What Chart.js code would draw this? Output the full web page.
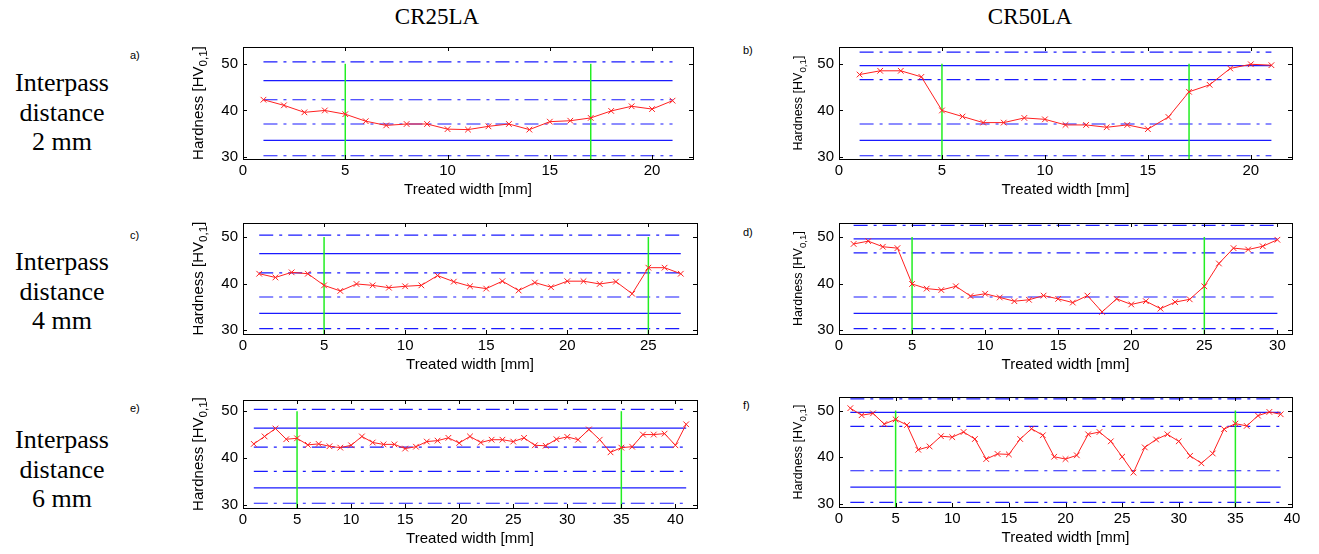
<!DOCTYPE html>
<html>
<head>
<meta charset="utf-8">
<script src="https://cdn.jsdelivr.net/npm/chart.js@4/dist/chart.umd.min.js"></script>
<style>
body{margin:0;background:#fff;width:1319px;height:554px;position:relative;overflow:hidden}
.t{position:absolute;white-space:nowrap;color:#000}
.col{font:23px/26px "Liberation Serif",serif;transform:translateX(-50%)}
.row{font:26px/29.5px "Liberation Serif",serif;text-align:center;transform:translateX(-50%)}
.lab{font:11px/13px "Liberation Sans",Arial,sans-serif}
canvas{position:absolute}
</style>
</head>
<body>
<div class="t col" style="left:437px;top:4px">CR25LA</div>
<div class="t col" style="left:1030px;top:4px">CR50LA</div>
<div class="t row" style="left:62px;top:68px">Interpass<br>distance<br>2 mm</div>
<div class="t row" style="left:62px;top:247px">Interpass<br>distance<br>4 mm</div>
<div class="t row" style="left:62px;top:425px">Interpass<br>distance<br>6 mm</div>
<div class="t lab" style="left:130px;top:49px">a)</div>
<div class="t lab" style="left:743px;top:44px">b)</div>
<div class="t lab" style="left:130px;top:229px">c)</div>
<div class="t lab" style="left:743px;top:226px">d)</div>
<div class="t lab" style="left:130px;top:402px">e)</div>
<div class="t lab" style="left:743px;top:399px">f)</div>
<script>
// measured hardness, one value per mm of treated width (starting at 1 mm)
const hardnessA = [42.3,41.1,39.6,40.0,39.2,37.7,36.8,37.1,37.1,36.0,35.9,36.6,37.1,35.9,37.6,37.8,38.4,39.9,40.9,40.3,42.1];
const hardnessB = [47.7,48.5,48.5,47.2,40.0,38.7,37.4,37.4,38.4,38.1,36.9,36.9,36.4,36.9,36.0,38.6,44.0,45.5,49.0,49.9,49.7];
const hardnessC = [42.1,41.3,42.4,42.1,39.6,38.4,39.9,39.6,39.1,39.4,39.6,41.7,40.4,39.4,38.9,40.5,38.5,40.2,39.2,40.5,40.5,39.9,40.4,37.8,43.4,43.4,42.1];
const hardnessD = [48.5,49.1,47.9,47.6,39.9,38.9,38.6,39.4,37.3,37.8,37.0,36.2,36.5,37.4,36.7,35.9,37.4,33.9,36.7,35.5,36.2,34.6,36.0,36.6,39.4,44.3,47.6,47.3,48.0,49.4];
const hardnessE = [43.0,44.6,46.3,44.0,44.2,42.8,43.0,42.5,42.2,42.7,44.6,43.3,42.9,42.9,42.0,42.4,43.5,43.7,44.3,43.2,44.6,43.3,43.9,43.9,43.5,44.3,42.7,42.6,44.0,44.5,43.9,46.1,43.9,41.2,42.2,42.4,45.0,45.0,45.2,42.7,47.2];
const hardnessF = [50.5,49.0,49.4,47.1,48.1,46.9,41.6,42.3,44.5,44.3,45.4,43.9,39.6,40.7,40.6,43.9,46.1,44.7,40.1,39.6,40.4,44.9,45.4,43.4,40.1,36.7,42.1,43.8,44.9,43.4,40.3,38.7,40.8,46.0,47.2,46.7,48.9,49.7,49.2];

// reference hardness levels
const cr25Solid = [46.4, 33.6];
const cr25DashDot = [50.4, 42.3, 37.1, 30.3];
const cr50Solid = [49.6, 33.6];
const cr50DashDot = [52.5, 46.6, 37.1, 30.3];

// green markers (x position, mm)
const hazA = [5, 17];
const hazB = [5, 17];
const hazC = [5, 25];
const hazD = [5, 25];
const hazE = [5, 35];
const hazF = [5, 35];
const hazTop = 50;

// tick labels
const yTicks = [30, 40, 50];
const xTicks20 = [0, 5, 10, 15, 20];
const xTicks25 = [0, 5, 10, 15, 20, 25];
const xTicks30 = [0, 5, 10, 15, 20, 25, 30];
const xTicks40 = [0, 5, 10, 15, 20, 25, 30, 35, 40];

const xTitle = 'Treated width [mm]';
const FONT = '"Liberation Sans", Arial, sans-serif';
const dashDot = [14, 6, 3, 6];

// matlab style box with inward ticks
const boxPlugin = {
  id: 'box',
  afterDraw(chart) {
    const {ctx, chartArea: a, scales: {x, y}} = chart;
    ctx.save();
    ctx.strokeStyle = '#000';
    ctx.lineWidth = 1;
    ctx.strokeRect(Math.round(a.left) + .5, Math.round(a.top) + .5, Math.round(a.right - a.left), Math.round(a.bottom - a.top));
    ctx.beginPath();
    for (const t of x.ticks) {
      const px = Math.round(x.getPixelForValue(t.value)) + .5;
      ctx.moveTo(px, a.bottom); ctx.lineTo(px, a.bottom - 4);
      ctx.moveTo(px, a.top); ctx.lineTo(px, a.top + 4);
    }
    for (const t of y.ticks) {
      const py = Math.round(y.getPixelForValue(t.value)) + .5;
      ctx.moveTo(a.left, py); ctx.lineTo(a.left + 4, py);
      ctx.moveTo(a.right, py); ctx.lineTo(a.right - 4, py);
    }
    ctx.stroke();
    ctx.restore();
  }
};

// y title with a real subscript: Hardness [HV 0,1 ]
const yTitlePlugin = {
  id: 'ytitle',
  afterDraw(chart, args, opts) {
    const {ctx, chartArea: a} = chart;
    const s = opts.size, sub = s * 0.78;
    const parts = [['Hardness [HV', s, 0], ['0,1', sub, s * 0.32], [']', s, 0]];
    ctx.save();
    ctx.fillStyle = '#000';
    let total = 0;
    for (const p of parts) { ctx.font = p[1] + 'px ' + FONT; p.push(ctx.measureText(p[0]).width); total += p[3]; }
    ctx.translate(a.left - opts.offset, (a.top + a.bottom) / 2);
    ctx.rotate(-Math.PI / 2);
    ctx.textBaseline = 'middle';
    let x = -total / 2;
    for (const p of parts) {
      ctx.font = p[1] + 'px ' + FONT;
      ctx.fillText(p[0], x, p[2]);
      x += p[3];
    }
    ctx.restore();
  }
};

function refLine(v, n, dash) {
  return {data: [{x: 1, y: v}, {x: n, y: v}], borderColor: '#1a1aff', borderWidth: 1.2,
    borderDash: dash, pointRadius: 0, order: 3};
}

function makePanel(p) {
  const {l, r, t, b} = p.box;
  const yW = 60, xH = 45, padT = 15, padR = 15;
  const w = r - l + yW + padR, h = b - t + padT + xH;
  const cv = document.createElement('canvas');
  cv.width = w; cv.height = h;
  cv.style.left = (l - yW) + 'px';
  cv.style.top = (t - padT) + 'px';
  cv.style.width = w + 'px';
  cv.style.height = h + 'px';
  document.body.appendChild(cv);

  const n = p.values.length;
  const ds = [];
  p.solid.forEach(v => ds.push(refLine(v, n, [])));
  p.dash.forEach(v => ds.push(refLine(v, n, dashDot)));
  p.haz.forEach(xv => ds.push({data: [{x: xv, y: p.yMin}, {x: xv, y: hazTop}],
    borderColor: '#22ee22', borderWidth: 1.5, pointRadius: 0, order: 2}));
  ds.push({data: p.values.map((v, i) => ({x: i + 1, y: v})), borderColor: '#ff2020', borderWidth: 1,
    pointStyle: 'crossRot', pointRadius: 4, pointBorderColor: '#ff2020', pointBorderWidth: 1, order: 1});

  new Chart(cv, {
    type: 'line',
    data: {datasets: ds},
    options: {
      responsive: false, animation: false, devicePixelRatio: 1, events: [],
      layout: {padding: {top: padT, right: padR, left: 0, bottom: 0}},
      plugins: {legend: {display: false}, tooltip: {enabled: false},
        ytitle: {size: p.ySize, offset: p.yOff}},
      scales: {
        x: {
          type: 'linear', min: 0, max: p.xMax,
          afterBuildTicks: s => { s.ticks = p.xTicks.map(v => ({value: v})); },
          afterFit: s => { s.height = xH; },
          grid: {display: false, drawTicks: false}, border: {display: false},
          ticks: {font: {size: 15, family: FONT}, color: '#000', padding: 3, maxRotation: 0},
          title: {display: true, text: xTitle, color: '#000', font: {size: 15, family: FONT}, padding: {top: 0, bottom: 5}}
        },
        y: {
          type: 'linear', min: p.yMin, max: p.yMax,
          afterBuildTicks: s => { s.ticks = yTicks.map(v => ({value: v})); },
          afterFit: s => { s.width = yW; },
          grid: {display: false, drawTicks: false}, border: {display: false},
          ticks: {font: {size: 15, family: FONT}, color: '#000', padding: 5}
        }
      }
    },
    plugins: [boxPlugin, yTitlePlugin]
  });
}

const panels = [
  {values: hardnessA, xMax: 22, xTicks: xTicks20, solid: cr25Solid, dash: cr25DashDot, haz: hazA,
   box: {l: 243, r: 693, t: 47, b: 159}, yMin: 29.6, yMax: 53.6, ySize: 15, yOff: 44},
  {values: hardnessB, xMax: 22, xTicks: xTicks20, solid: cr50Solid, dash: cr50DashDot, haz: hazB,
   box: {l: 839, r: 1292, t: 47, b: 159}, yMin: 29.6, yMax: 53.6, ySize: 12.5, yOff: 40},
  {values: hardnessC, xMax: 28, xTicks: xTicks25, solid: cr25Solid, dash: cr25DashDot, haz: hazC,
   box: {l: 243, r: 697, t: 223, b: 334}, yMin: 29.15, yMax: 53.0, ySize: 15, yOff: 44},
  {values: hardnessD, xMax: 31, xTicks: xTicks30, solid: cr50Solid, dash: cr50DashDot, haz: hazD,
   box: {l: 839, r: 1292, t: 223, b: 334}, yMin: 29.15, yMax: 53.0, ySize: 12.5, yOff: 40},
  {values: hardnessE, xMax: 42, xTicks: xTicks40, solid: cr25Solid, dash: cr25DashDot, haz: hazE,
   box: {l: 243, r: 697, t: 400, b: 508}, yMin: 29.28, yMax: 52.4, ySize: 15, yOff: 44},
  {values: hardnessF, xMax: 40, xTicks: xTicks40, solid: cr50Solid, dash: cr50DashDot, haz: hazF,
   box: {l: 839, r: 1292, t: 397, b: 507}, yMin: 29.33, yMax: 52.9, ySize: 12.5, yOff: 40}
];

panels.forEach(makePanel);
</script>
</body>
</html>
